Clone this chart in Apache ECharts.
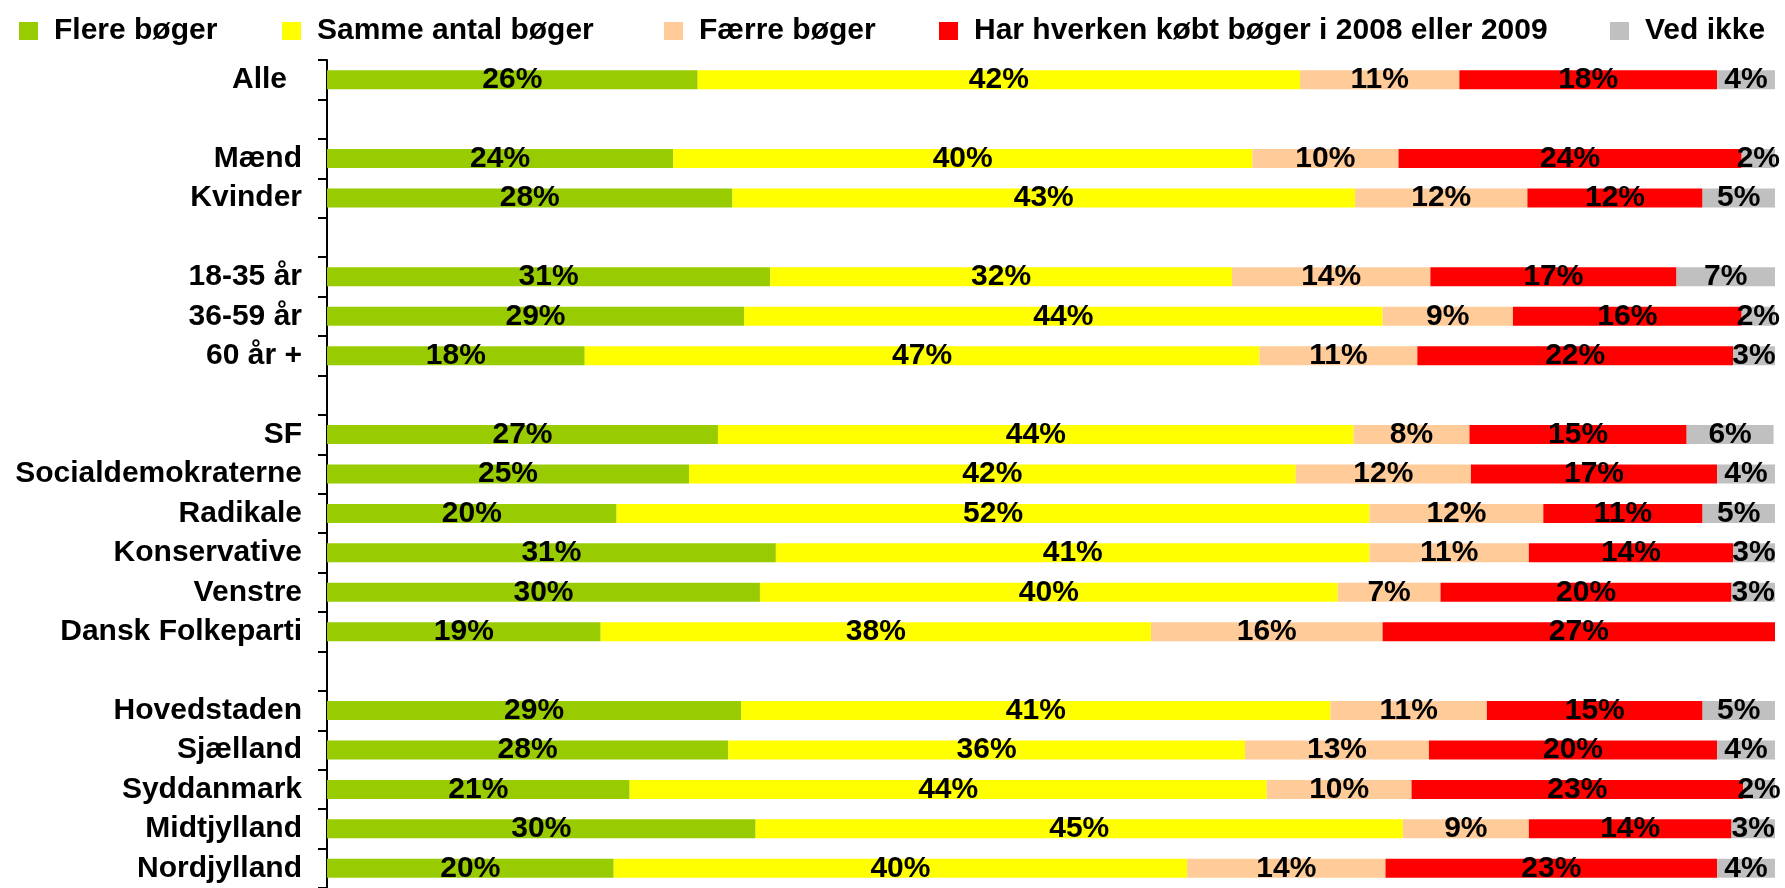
<!DOCTYPE html>
<html lang="da">
<head>
<meta charset="utf-8">
<title>Bogkøb 2009</title>
<script src="https://cdn.jsdelivr.net/npm/echarts@6/dist/echarts.min.js"></script>
<style>
  html, body { margin: 0; padding: 0; background: #fff; }
  #chart { width: 1785px; height: 888px; }
</style>
</head>
<body>
<div id="chart"></div>
<script>
// kategorier (tomme rækker = mellemrum mellem grupper)
var kategorier = ['Alle', ' ', 'Mænd', 'Kvinder', '  ', '18-35 år', '36-59 år', '60 år +', '   ',
  'SF', 'Socialdemokraterne', 'Radikale', 'Konservative', 'Venstre', 'Dansk Folkeparti', '    ',
  'Hovedstaden', 'Sjælland', 'Syddanmark', 'Midtjylland', 'Nordjylland'];

var serieNavne = ['Flere bøger', 'Samme antal bøger', 'Færre bøger', 'Har hverken købt bøger i 2008 eller 2009', 'Ved ikke'];
var farver = ['#99CC00', '#FFFF00', '#FFCC99', '#FF0000', '#C0C0C0'];

// procent
var flere   = [25.6, '-', 23.9, 28.0, '-', 30.6, 28.8, 17.8, '-', 27.0, 25.0, 20.0, 31.0, 29.9, 18.9, '-', 28.6, 27.7, 20.9, 29.6, 19.8];
var samme   = [41.6, '-', 40.0, 43.0, '-', 31.9, 44.1, 46.6, '-', 43.9, 41.9, 52.0, 41.0, 39.9, 38.0, '-', 40.7, 35.7, 44.0, 44.7, 39.6];
var faerre  = [11.0, '-', 10.1, 11.9, '-', 13.7, 9.0, 10.9, '-', 8.0, 12.1, 12.0, 11.0, 7.1, 16.0, '-', 10.8, 12.7, 10.0, 8.7, 13.7];
var hverken = [17.8, '-', 23.7, 12.1, '-', 17.0, 15.8, 21.8, '-', 15.0, 17.0, 11.0, 14.1, 20.1, 27.2, '-', 14.9, 19.9, 22.9, 14.0, 22.9];
var vedIkke = [4.0, '-', 2.3, 5.0, '-', 6.9, 2.3, 3.0, '-', 6.0, 4.0, 5.0, 3.0, 3.0, '-', '-', 5.0, 4.0, 2.3, 3.0, 4.0];

var alleData = [flere, samme, faerre, hverken, vedIkke];
var legendLeft = [14, 277, 659, 934, 1605];

var font = "'Liberation Sans', Arial, sans-serif";
var myChart = echarts.init(document.getElementById('chart'));

var legends = serieNavne.map(function (navn, i) {
  return {
    data: [navn],
    left: legendLeft[i],
    top: 11,
    itemWidth: 19,
    itemHeight: 18,
    icon: 'rect',
    selectedMode: false,
    textStyle: {
      fontFamily: font, fontWeight: 'bold', fontSize: 30, color: '#000',
      lineHeight: 30, padding: [0, 0, 0, 11]
    }
  };
});

var series = serieNavne.map(function (navn, i) {
  return {
    name: navn,
    type: 'bar',
    stack: 'total',
    barWidth: 19,
    itemStyle: { color: farver[i] },
    label: {
      show: true,
      position: 'inside',
      color: '#000',
      fontFamily: font,
      fontWeight: 'bold',
      fontSize: 30,
      formatter: function (p) { return Math.round(p.value) + '%'; }
    },
    data: alleData[i]
  };
});

myChart.setOption({
  animation: false,
  color: farver,
  legend: legends,
  grid: { left: 327, right: 10, top: 60, bottom: -3 },
  xAxis: {
    type: 'value',
    min: 0,
    max: 100,
    show: false
  },
  yAxis: {
    type: 'category',
    inverse: true,
    data: kategorier,
    axisLine: { show: true, lineStyle: { color: '#000', width: 2 } },
    axisTick: { show: true, interval: 0, inside: false, length: 9, lineStyle: { color: '#000', width: 2 } },
    axisLabel: {
      interval: 0,
      margin: 25,
      color: '#000',
      fontFamily: font,
      fontWeight: 'bold',
      fontSize: 30,
      formatter: function (v) { return v === 'Alle' ? 'Alle\u2002' : v; }
    }
  },
  series: series
});
</script>
</body>
</html>
